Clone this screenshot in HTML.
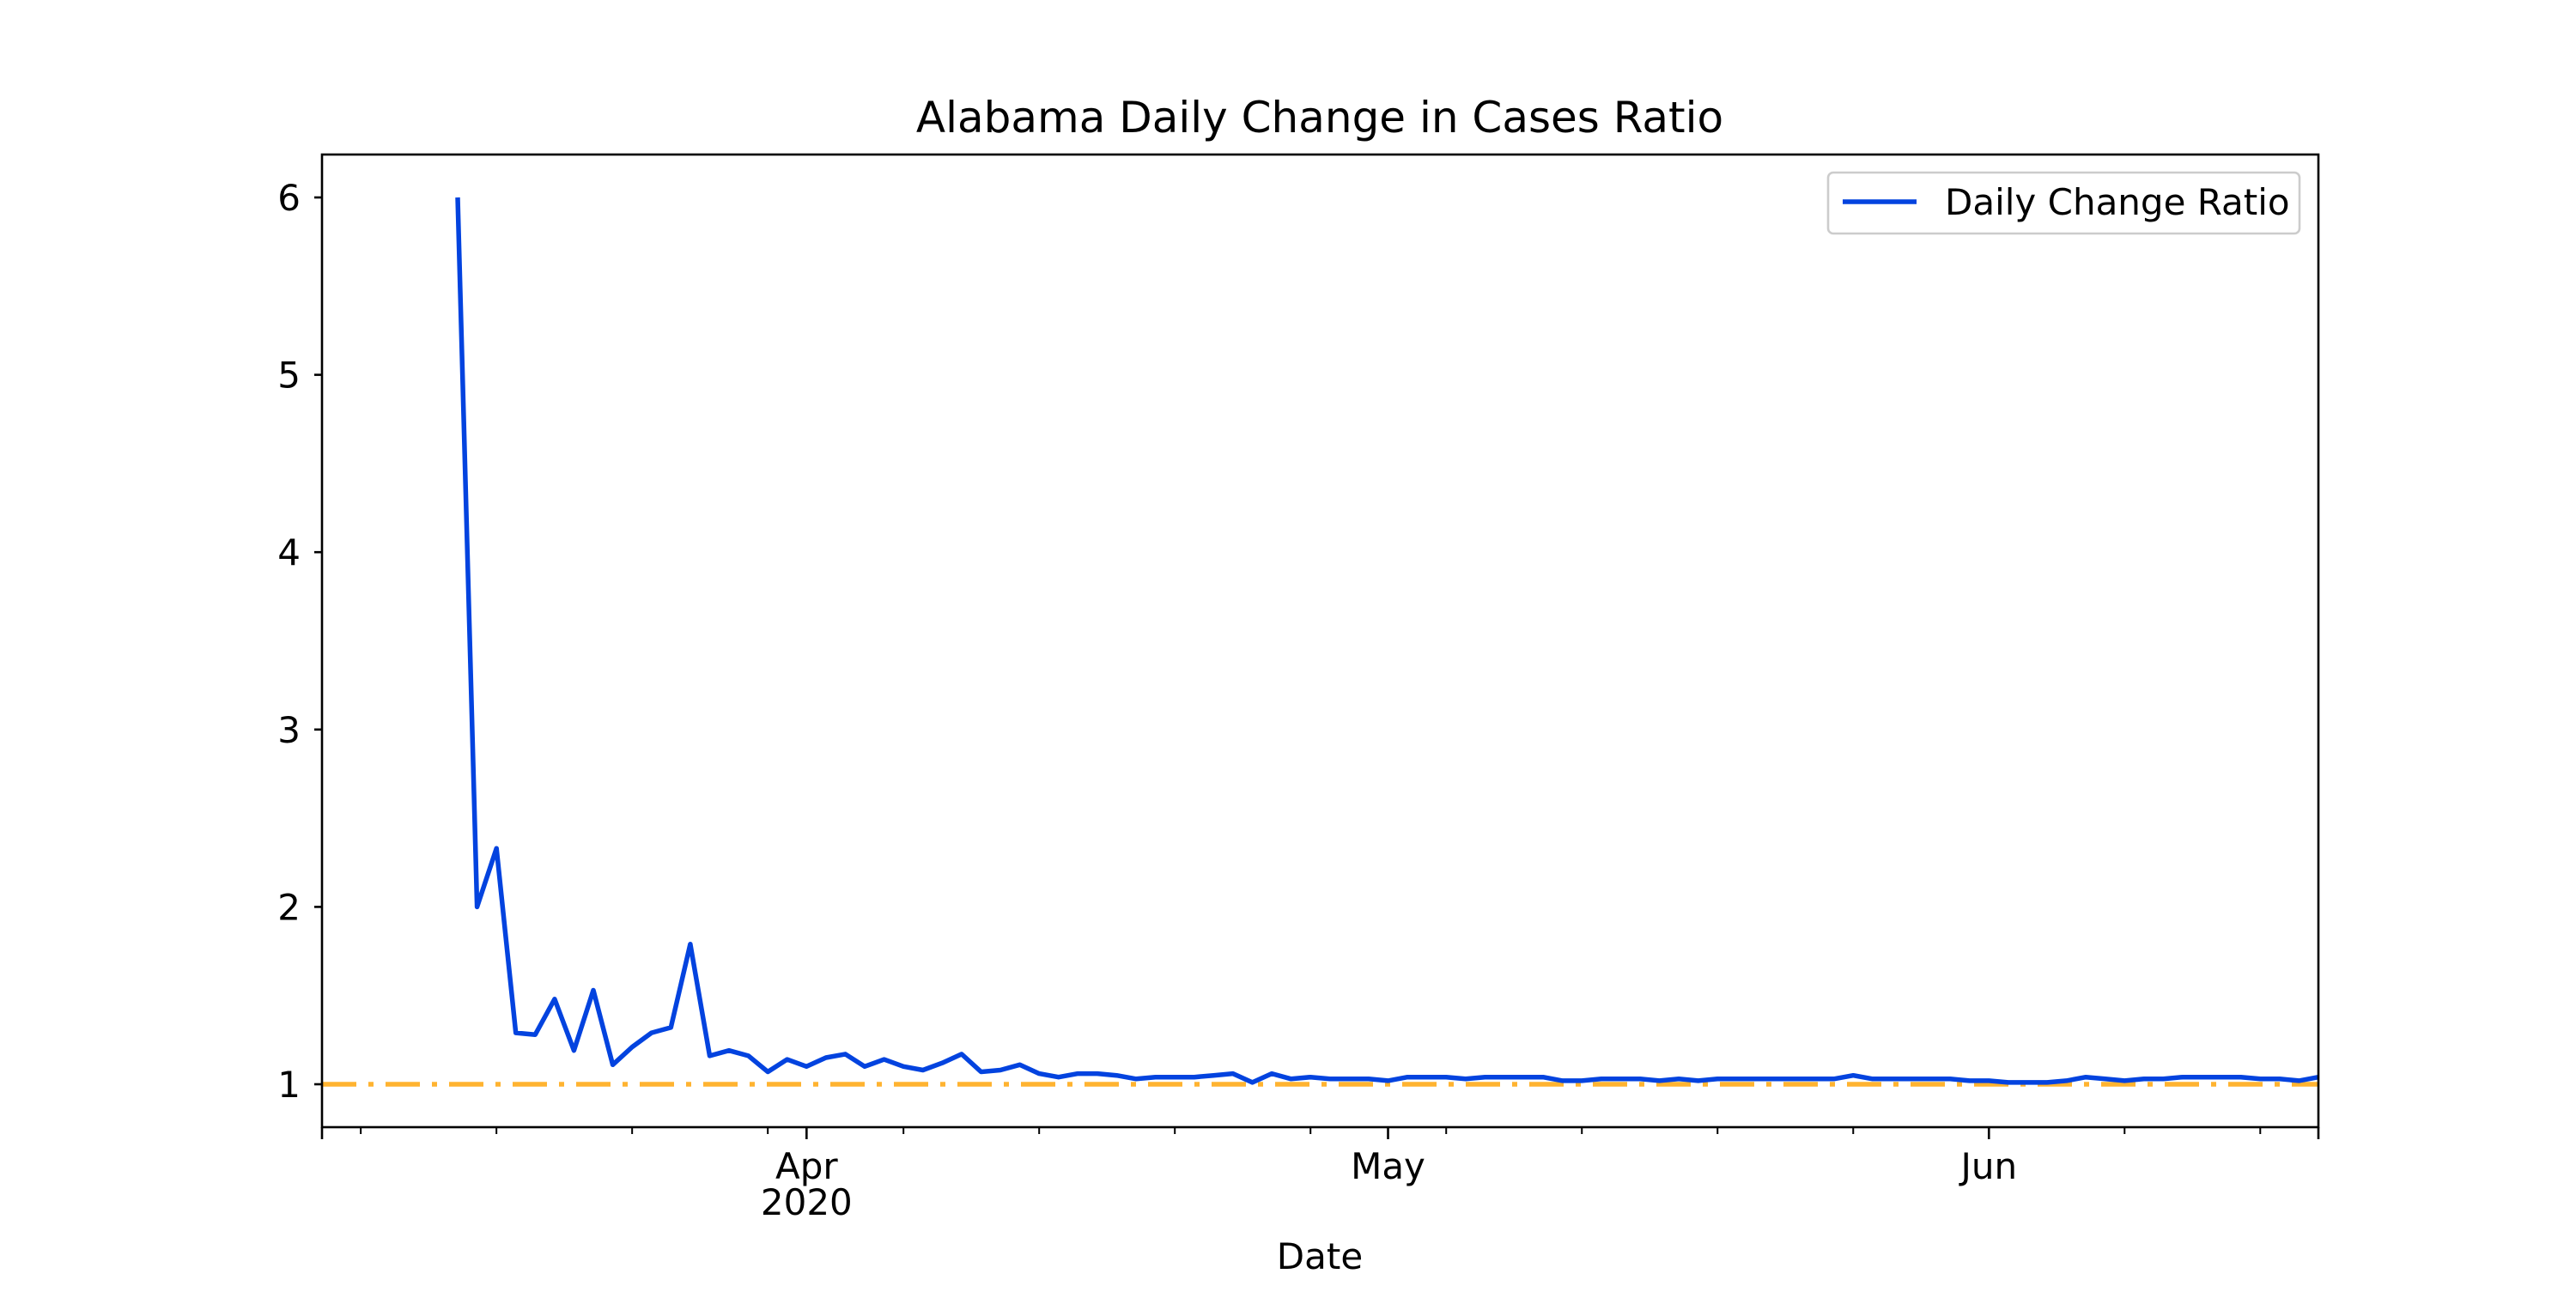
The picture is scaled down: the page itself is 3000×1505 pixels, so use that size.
<!DOCTYPE html>
<html><head><meta charset="utf-8"><style>
body{margin:0;background:#fff;}
svg text{font-family:"DejaVu Sans","Liberation Sans",sans-serif;fill:#000;}
</style></head><body>
<svg id="chart" width="3000" height="1500" viewBox="0 0 3000 1500" xmlns="http://www.w3.org/2000/svg">
<rect width="3000" height="1500" fill="#fff"/>
<text x="1537" y="154" font-size="50" text-anchor="middle">Alabama Daily Change in Cases Ratio</text>
<g id="axes"></g>
<text x="1537" y="1478" font-size="42" text-anchor="middle">Date</text>
</svg>
<script>
const startDate = "2020-03-14";
const ratios = [6.0,2.0,2.33,1.29,1.28,1.48,1.19,1.53,1.11,1.21,1.29,1.32,1.79,1.16,1.19,1.16,1.07,1.14,
1.10,1.15,1.17,1.10,1.14,1.10,1.08,1.12,1.17,1.07,1.08,1.11,1.06,1.04,1.06,1.06,1.05,1.03,1.04,1.04,1.04,1.05,1.06,1.01,1.06,1.03,1.04,1.03,1.03,1.03,
1.02,1.04,1.04,1.04,1.03,1.04,1.04,1.04,1.04,1.02,1.02,1.03,1.03,1.03,1.02,1.03,1.02,1.03,1.03,1.03,1.03,1.03,1.03,1.03,1.05,1.03,1.03,1.03,1.03,1.03,1.02,
1.02,1.01,1.01,1.01,1.02,1.04,1.03,1.02,1.03,1.03,1.04,1.04,1.04,1.04,1.03,1.03,1.02,1.04];
const yTicks = [1,2,3,4,5,6];
const monthTicks = [["2020-04-01","Apr","2020"],["2020-05-01","May",""],["2020-06-01","Jun",""]];
const referenceLevel = 1;

const NS="http://www.w3.org/2000/svg";
const L=375,R=2700,T=180,B=1313;
const day=86400000;
const x0=Date.UTC(2020,2,7), x1=Date.UTC(2020,5,18);
function parse(s){const p=s.split('-');return Date.UTC(+p[0],+p[1]-1,+p[2]);}
function X(t){return L+(t-x0)/(x1-x0)*(R-L);}
function Y(v){return 1263-(v-1)*206.6;}
const g=document.getElementById('axes');
function mk(tag,attrs,parent){const e=document.createElementNS(NS,tag);for(const k in attrs)e.setAttribute(k,attrs[k]);(parent||g).appendChild(e);return e;}

const ref=mk('line',{x1:L,x2:R,y1:Y(referenceLevel),y2:Y(referenceLevel),stroke:'#ffb330','stroke-width':5.5,'stroke-dasharray':'40 14 6 14'});



const s0=parse(startDate);
const pts=ratios.map((v,i)=>X(s0+i*day).toFixed(1)+','+Y(v).toFixed(1)).join(' ');
const line=mk('polyline',{points:pts,fill:'none',stroke:'#0343df','stroke-width':5.5,'stroke-linejoin':'round'});



const fr=mk('rect',{x:L,y:T,width:R-L,height:B-T,fill:'none',stroke:'#000','stroke-width':2.6});



yTicks.forEach(v=>{
  const tl=mk('line',{x1:L-9,x2:L,y1:Y(v),y2:Y(v),stroke:'#000','stroke-width':2.6});
  
  
  const tx=mk('text',{x:L-25,y:Y(v)+15,'font-size':42,'text-anchor':'end'});
  tx.textContent=v;
  
  
});
for(let t=Date.UTC(2020,2,9);t<=x1;t+=7*day){
  const m=mk('line',{x1:X(t),x2:X(t),y1:B,y2:B+8,stroke:'#000','stroke-width':2});
  
  
}
[x0,x1].forEach(t=>{
  const m=mk('line',{x1:X(t),x2:X(t),y1:B,y2:B+14,stroke:'#000','stroke-width':2.6});
  
  
});
monthTicks.forEach(mt=>{
  const t=parse(mt[0]);
  const m=mk('line',{x1:X(t),x2:X(t),y1:B,y2:B+14,stroke:'#000','stroke-width':2.6});
  
  
  const tx=mk('text',{x:X(t),y:B+60,'font-size':42,'text-anchor':'middle'});
  tx.textContent=mt[1];
  
  
  if(mt[2]){
    const ty=mk('text',{x:X(t),y:B+102,'font-size':42,'text-anchor':'middle'});
    ty.textContent=mt[2];
    
    
  }
});
const lg=mk('g',{});


mk('rect',{x:2129,y:201,width:549,height:71,rx:6,fill:'#fff',stroke:'#ccc','stroke-width':2.6},lg);
const ll=mk('line',{x1:2146,x2:2232,y1:235,y2:235,stroke:'#0343df','stroke-width':5.5},lg);


const lt=mk('text',{x:2265,y:250,'font-size':42},lg);
lt.textContent='Daily Change Ratio';


</script>
</body></html>
